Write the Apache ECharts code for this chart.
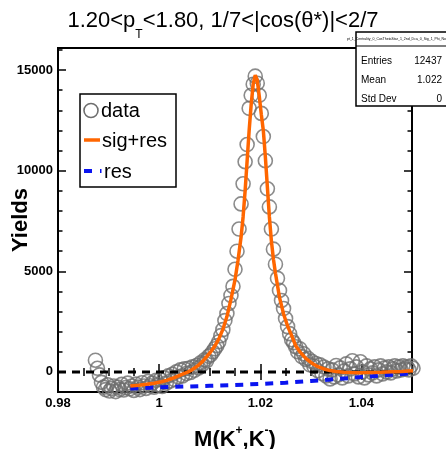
<!DOCTYPE html>
<html>
<head>
<meta charset="utf-8">
<script src="https://cdn.jsdelivr.net/npm/echarts@6/dist/echarts.min.js"></script>
<style>
html,body{margin:0;padding:0;background:#fff;}
#chart{width:446px;height:449px;}
</style>
</head>
<body>
<div id="chart"></div>
<script>
// ---- data ----
const massBins = [
0.9874,0.9878,0.9882,0.9886,0.9890,0.9894,0.9898,0.9902,0.9906,0.9910,
0.9914,0.9918,0.9922,0.9926,0.9930,0.9934,0.9938,0.9942,0.9946,0.9950,
0.9954,0.9958,0.9962,0.9966,0.9970,0.9974,0.9978,0.9982,0.9986,0.9990,
0.9994,0.9998,1.0002,1.0006,1.0010,1.0014,1.0018,1.0022,1.0026,1.0030,
1.0034,1.0038,1.0042,1.0046,1.0050,1.0054,1.0058,1.0062,1.0066,1.0070,
1.0074,1.0078,1.0082,1.0086,1.0090,1.0094,1.0098,1.0102,1.0106,1.0110,
1.0114,1.0118,1.0122,1.0126,1.0130,1.0134,1.0138,1.0142,1.0146,1.0150,
1.0154,1.0158,1.0162,1.0166,1.0170,1.0174,1.0178,1.0182,1.0186,1.0190,
1.0194,1.0198,1.0202,1.0206,1.0210,1.0214,1.0218,1.0222,1.0226,1.0230,
1.0234,1.0238,1.0242,1.0246,1.0250,1.0254,1.0258,1.0262,1.0266,1.0270,
1.0274,1.0278,1.0282,1.0286,1.0290,1.0294,1.0298,1.0302,1.0306,1.0310,
1.0314,1.0318,1.0322,1.0326,1.0330,1.0334,1.0338,1.0342,1.0346,1.0350,
1.0354,1.0358,1.0362,1.0366,1.0370,1.0374,1.0378,1.0382,1.0386,1.0390,
1.0394,1.0398,1.0402,1.0406,1.0410,1.0414,1.0418,1.0422,1.0426,1.0430,
1.0434,1.0438,1.0442,1.0446,1.0450,1.0454,1.0458,1.0462,1.0466,1.0470,
1.0474,1.0478,1.0482,1.0486,1.0490,1.0494,1.0498,1.0502];
const dataYields = [
580,180,-150,-520,-760,-880,-640,-950,-820,-700,
-980,-760,-880,-620,-900,-780,-560,-840,-700,-920,
-610,-760,-880,-540,-700,-820,-480,-690,-560,-760,
-420,-640,-380,-720,-300,-560,-200,-450,-120,-380,
0,-250,100,-200,150,-80,180,-30,250,80,
320,200,450,380,600,560,780,850,1000,1150,
1300,1500,1800,2100,2550,2900,3400,3800,4250,5100,
6000,7100,8350,9350,10450,11300,13100,13750,14300,14700,
14350,13750,12850,11700,10500,9100,8200,7100,6100,5350,
4650,4050,3550,3150,2650,2250,1900,1600,1450,1250,
1000,1150,760,900,620,680,350,520,280,420,
60,350,-80,240,-200,150,-350,100,-250,320,
-150,200,-300,50,400,-200,150,550,-100,250,
-250,500,0,-300,300,-150,150,-50,250,-200,
100,300,-100,200,0,250,-50,150,300,50,
250,100,300,150,250,100,300,180];

const fitMass = [0.9943,0.9960,0.9975,0.9990,1.0005,1.0015,1.0025,1.0035,1.0045,1.0055,1.0062,1.0070,1.0078,1.0086,1.0094,1.0102,1.0110,1.0118,1.0126,1.0134,1.0142,1.0150,1.0156,1.0162,1.0166,1.0170,1.0174,1.0178,1.0182,1.0186,1.0190,1.0194,1.0198,1.0202,1.0206,1.0210,1.0214,1.0218,1.0222,1.0226,1.0230,1.0238,1.0246,1.0254,1.0262,1.0270,1.0278,1.0290,1.0302,1.0314,1.0326,1.0338,1.0350,1.0365,1.0380,1.0395,1.0410,1.0425,1.0440,1.0460,1.0480,1.0502];
const fitYields = [-700,-665,-620,-565,-490,-420,-330,-230,-130,-30,60,190,340,520,760,1000,1280,1640,2110,2750,3600,4570,5550,6700,7700,9000,10500,12000,13300,14300,14750,14500,13700,12800,12000,10700,9200,7700,6500,5600,4900,3700,2880,2280,1800,1300,1010,670,430,260,145,65,15,-20,-35,-38,-35,-26,-16,4,22,58];

const resMass = [0.9943,1.000,1.005,1.010,1.015,1.020,1.025,1.030,1.035,1.040,1.045,1.050];
const resYields = [-830,-770,-730,-690,-650,-600,-540,-450,-360,-260,-160,-70];

const zeroMass = [0.98, 1.05];
const zeroYields = [0, 0];

const xMajorTicks = [0.98, 1.00, 1.02, 1.04];
const xMinorTicks = [0.985,0.99,0.995,1.005,1.01,1.015,1.025,1.03,1.035,1.045];
const yMajorTicks = [0, 5000, 10000, 15000];
const yMinorTicks = [-1000,1000,2000,3000,4000,6000,7000,8000,9000,11000,12000,13000,14000,16000];

const legendNames = ['data', 'sig+res', 'res'];
const statsRows = [['Entries','12437'],['Mean','1.022'],['Std Dev','0']];
const statsTitle = 'pt_1_Centrality_0_CosThetaStar_1_2nd_Dca_0_Sig_1_Phi_Norm';

const FONT = "'Liberation Sans', Arial, Helvetica, sans-serif";
const ORANGE = '#ff6600';
const BLUE = '#0a14f0';
const GREY = '#6e6e6e';

function zip(a, b) { return a.map((v, i) => [v, b[i]]); }
function fmtX(v) { return String(parseFloat(Number(v).toFixed(2))); }
function fmtY(v) { return String(Math.round(v)); }

const X_MIN = 0.98, X_MAX = 1.05, Y_MIN = -1000, Y_MAX = 16100;

function xAx(pos, ticks, len, labels) {
  return {
    type: 'value', min: X_MIN, max: X_MAX, position: pos,
    axisLine: {show: false}, splitLine: {show: false},
    axisTick: {show: true, inside: true, length: len, customValues: ticks,
               lineStyle: {color: '#000', width: 1.5}},
    axisLabel: labels ? {show: true, customValues: xMajorTicks, formatter: fmtX,
               color: '#000', fontWeight: 'bold', fontSize: 13, fontFamily: FONT, margin: 5}
             : {show: false}
  };
}
function yAx(pos, ticks, len, labels) {
  return {
    type: 'value', min: Y_MIN, max: Y_MAX, position: pos,
    axisLine: {show: false}, splitLine: {show: false},
    axisTick: {show: true, inside: true, length: len, customValues: ticks,
               lineStyle: {color: '#000', width: 1.5}},
    axisLabel: labels ? {show: true, customValues: yMajorTicks, formatter: fmtY,
               color: '#000', fontWeight: 'bold', fontSize: 13, fontFamily: FONT, margin: 5}
             : {show: false}
  };
}

const xAxes = [xAx('bottom', xMajorTicks, 8, true), xAx('bottom', xMinorTicks, 4, false),
               xAx('top', xMajorTicks, 8, false), xAx('top', xMinorTicks, 4, false)];
xAxes[0].name = '{b|M(K}{p|+}{b|,K}{p|-}{b|)}';
xAxes[0].nameLocation = 'middle';
xAxes[0].nameGap = 33;
xAxes[0].nameMoveOverlap = false;
xAxes[0].nameTextStyle = {rich: {
  b: {fontSize: 22, fontWeight: 'bold', fontFamily: FONT, color: '#000', lineHeight: 26, verticalAlign: 'bottom'},
  p: {fontSize: 12, fontWeight: 'bold', fontFamily: FONT, color: '#000', lineHeight: 10, verticalAlign: 'top'}
}};
const yAxes = [yAx('left', yMajorTicks, 8, true), yAx('left', yMinorTicks, 4.5, false),
               yAx('right', yMajorTicks, 8, false), yAx('right', yMinorTicks, 4.5, false)];
yAxes[0].name = 'Yields';
yAxes[0].nameLocation = 'middle';
yAxes[0].nameGap = 26;
yAxes[0].nameMoveOverlap = false;
yAxes[0].nameTextStyle = {fontSize: 22, fontWeight: 'bold', fontFamily: FONT, color: '#000'};

const chart = echarts.init(document.getElementById('chart'), null, {renderer: 'canvas'});
chart.setOption({
  animation: false,
  backgroundColor: '#fff',
  title: {
    text: '{a|1.20<p}{s|T}{a|<1.80, 1/7<|cos(θ*)|<2/7}',
    left: 'center', top: 10, padding: 0,
    textStyle: {fontWeight: 'normal', rich: {
      a: {fontSize: 22, fontWeight: 'normal', fontFamily: FONT, color: '#000', lineHeight: 26, verticalAlign: 'top'},
      s: {fontSize: 12, fontWeight: 'normal', fontFamily: FONT, color: '#000', lineHeight: 31, verticalAlign: 'bottom'}
    }}
  },
  grid: {left: 58, right: 34, top: 48, bottom: 57, show: true, borderColor: '#000', borderWidth: 2,
         backgroundColor: 'transparent', containLabel: false, outerBoundsMode: 'none'},
  xAxis: xAxes,
  yAxis: yAxes,
  series: [
    {name: 'data', type: 'scatter', data: zip(massBins, dataYields), symbol: 'circle', symbolSize: 14,
     clip: false, z: 2,
     itemStyle: {color: 'rgba(0,0,0,0)', borderColor: GREY, borderWidth: 1.6}},
    {name: 'zero', type: 'line', data: zip(zeroMass, zeroYields), symbol: 'none', z: 3,
     lineStyle: {color: '#000', width: 3, type: [8, 6]}},
    {name: 'res', type: 'line', data: zip(resMass, resYields), symbol: 'none', z: 4,
     lineStyle: {color: BLUE, width: 4, type: [8, 7]}},
    {name: 'sig+res', type: 'line', data: zip(fitMass, fitYields), symbol: 'none', z: 5,
     lineStyle: {color: ORANGE, width: 3.5}}
  ],
  graphic: [
    // legend
    {type: 'rect', z: 100, shape: {x: 80, y: 94, width: 96, height: 93},
     style: {fill: '#fff', stroke: '#000', lineWidth: 1.5}},
    {type: 'circle', z: 101, shape: {cx: 91, cy: 110.5, r: 7},
     style: {fill: 'none', stroke: GREY, lineWidth: 1.6}},
    {type: 'text', z: 101, x: 101, y: 111, style: {text: legendNames[0], font: '20px ' + FONT, fill: '#000', verticalAlign: 'middle'}},
    {type: 'line', z: 101, shape: {x1: 84, y1: 140, x2: 100, y2: 140}, style: {stroke: ORANGE, lineWidth: 3.5}},
    {type: 'text', z: 101, x: 102, y: 141, style: {text: legendNames[1], font: '20px ' + FONT, fill: '#000', verticalAlign: 'middle'}},
    {type: 'line', z: 101, shape: {x1: 84, y1: 171, x2: 92, y2: 171}, style: {stroke: BLUE, lineWidth: 4}},
    {type: 'line', z: 101, shape: {x1: 100, y1: 171, x2: 101.5, y2: 171}, style: {stroke: BLUE, lineWidth: 4}},
    {type: 'text', z: 101, x: 104, y: 172, style: {text: legendNames[2], font: '20px ' + FONT, fill: '#000', verticalAlign: 'middle'}},
    // stats box
    {type: 'rect', z: 100, shape: {x: 356, y: 32, width: 95, height: 74},
     style: {fill: '#fff', stroke: '#000', lineWidth: 1.5}},
    {type: 'line', z: 101, shape: {x1: 356, y1: 46, x2: 446, y2: 46}, style: {stroke: '#000', lineWidth: 1}},
    {type: 'text', z: 101, x: 347, y: 39, style: {text: statsTitle, font: '3.5px ' + FONT, fill: '#000', verticalAlign: 'middle'}},
    {type: 'text', z: 101, x: 361, y: 61, style: {text: statsRows[0][0], font: '10px ' + FONT, fill: '#000', verticalAlign: 'middle'}},
    {type: 'text', z: 101, x: 442, y: 61, style: {text: statsRows[0][1], font: '10px ' + FONT, fill: '#000', verticalAlign: 'middle', align: 'right'}},
    {type: 'text', z: 101, x: 361, y: 80, style: {text: statsRows[1][0], font: '10px ' + FONT, fill: '#000', verticalAlign: 'middle'}},
    {type: 'text', z: 101, x: 442, y: 80, style: {text: statsRows[1][1], font: '10px ' + FONT, fill: '#000', verticalAlign: 'middle', align: 'right'}},
    {type: 'text', z: 101, x: 361, y: 99, style: {text: statsRows[2][0], font: '10px ' + FONT, fill: '#000', verticalAlign: 'middle'}},
    {type: 'text', z: 101, x: 442, y: 99, style: {text: statsRows[2][1], font: '10px ' + FONT, fill: '#000', verticalAlign: 'middle', align: 'right'}}
  ]
});
</script>
</body>
</html>
